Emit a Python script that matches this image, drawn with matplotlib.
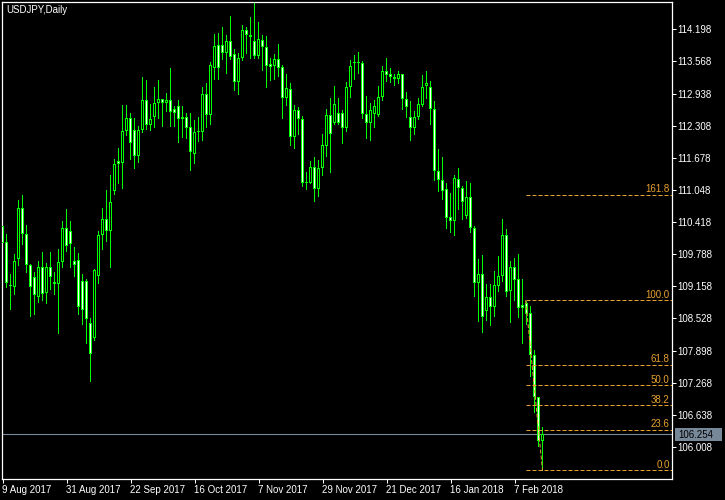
import matplotlib
matplotlib.use("Agg")
import matplotlib.pyplot as plt
from matplotlib.patches import Rectangle
import numpy as np

plt.rcParams['font.family'] = ['Liberation Sans', 'DejaVu Sans']

# USDJPY daily bars, 9 Aug 2017 .. 16 Feb 2018
opens = [110.34, 110.02, 109.18, 109.14, 109.69, 110.69, 110.18, 109.57, 109.34, 108.95,
         109.54, 109.02, 109.54, 109.25, 109.20, 109.63, 110.31, 110.24, 109.66, 109.67,
         109.26, 109.26, 108.43, 108.14, 109.37, 110.16, 110.47, 110.24, 111.03, 111.61,
         111.58, 112.20, 112.46, 112.22, 111.72, 112.22, 112.82, 112.33, 112.48, 112.75,
         112.84, 112.75, 112.81, 112.64, 112.69, 112.48, 112.48, 112.29, 111.75, 112.20,
         112.19, 112.92, 112.52, 113.43, 113.89, 113.89, 113.73, 113.97, 113.71, 113.16,
         113.63, 114.18, 114.08, 113.97, 113.68, 113.99, 113.86, 113.51, 113.47, 113.61,
         113.45, 112.86, 113.03, 112.09, 112.62, 112.44, 111.19, 111.19, 111.50, 111.07,
         111.47, 111.91, 112.52, 112.37, 112.55, 112.55, 112.26, 113.07, 113.53, 113.53,
         113.53, 112.53, 112.37, 112.53, 112.52, 112.88, 113.38, 113.32, 113.26, 113.22,
         113.33, 112.84, 112.48, 112.26, 112.48, 112.71, 113.09, 113.07, 112.63, 111.41,
         111.24, 111.07, 110.51, 110.43, 111.26, 111.08, 110.54, 110.90, 110.30, 109.22,
         109.39, 108.68, 108.94, 108.76, 109.17, 109.37, 110.17, 109.07, 109.54, 109.30,
         108.79, 108.84, 108.63, 107.81, 106.99, 106.13]
highs = [110.36, 110.18, 109.40, 109.79, 110.85, 110.95, 110.36, 109.60, 109.43, 109.65,
         109.83, 109.61, 109.83, 109.43, 109.89, 110.44, 110.67, 110.44, 109.93, 109.82,
         109.39, 109.30, 108.54, 109.49, 110.24, 110.70, 111.05, 111.34, 111.65, 111.88,
         112.71, 112.71, 112.55, 112.46, 112.30, 113.26, 113.20, 112.73, 113.06, 113.20,
         112.84, 112.94, 113.43, 112.69, 112.82, 112.69, 112.55, 112.55, 112.42, 112.48,
         113.06, 113.15, 113.56, 114.10, 114.12, 114.24, 114.09, 114.46, 113.81, 113.73,
         114.28, 114.25, 114.43, 114.72, 114.35, 114.09, 114.07, 113.63, 113.71, 113.91,
         113.50, 113.32, 113.14, 112.71, 112.68, 112.50, 111.39, 111.62, 111.69, 111.63,
         112.14, 112.63, 112.86, 113.09, 112.86, 112.62, 113.16, 113.60, 113.69, 113.76,
         113.58, 112.89, 112.76, 112.82, 113.09, 113.48, 113.63, 113.43, 113.32, 113.38,
         113.33, 112.96, 112.79, 112.60, 112.86, 113.30, 113.38, 113.18, 112.79, 111.86,
         111.70, 111.18, 110.99, 111.34, 111.47, 111.13, 111.22, 111.18, 110.34, 109.69,
         109.77, 109.20, 109.20, 109.45, 109.75, 110.48, 110.28, 109.65, 109.72, 109.79,
         109.30, 108.88, 108.77, 107.90, 106.99, 106.39]
lows = [109.95, 109.14, 108.72, 109.01, 109.58, 109.98, 109.43, 108.58, 108.62, 108.86,
        108.89, 108.84, 109.11, 109.01, 108.25, 109.53, 109.86, 109.54, 109.36, 108.62,
        108.42, 108.04, 107.31, 108.10, 109.23, 109.89, 110.05, 109.54, 110.97, 111.19,
        111.09, 112.12, 111.65, 111.48, 111.60, 112.19, 112.24, 112.22, 112.29, 112.45,
        112.30, 112.60, 112.30, 112.30, 111.98, 112.08, 112.06, 111.44, 111.57, 112.01,
        112.03, 112.29, 112.35, 113.22, 113.22, 113.61, 113.34, 113.62, 113.01, 112.93,
        113.59, 113.73, 113.63, 113.63, 113.63, 113.39, 113.06, 113.20, 113.22, 113.28,
        112.46, 112.71, 111.93, 111.88, 112.14, 111.13, 111.06, 111.18, 110.84, 110.92,
        111.34, 111.72, 111.39, 112.34, 112.35, 111.96, 112.20, 112.88, 113.22, 113.35,
        112.45, 112.06, 112.02, 112.29, 112.50, 112.81, 113.18, 113.17, 113.11, 113.14,
        112.63, 112.47, 112.03, 112.14, 112.44, 112.69, 112.86, 112.34, 111.24, 111.03,
        110.88, 110.31, 110.23, 110.17, 110.67, 110.48, 110.49, 110.23, 108.96, 108.48,
        108.27, 108.50, 108.40, 108.58, 109.07, 109.27, 108.97, 108.45, 108.89, 108.56,
        108.04, 108.42, 107.39, 106.70, 106.03, 105.55]
closes = [110.01, 109.22, 109.16, 109.65, 110.69, 110.18, 109.57, 109.14, 108.98, 109.54,
          109.01, 109.54, 109.34, 109.20, 109.63, 110.31, 109.95, 109.99, 109.58, 108.76,
          108.69, 108.52, 107.83, 109.48, 110.16, 110.47, 110.24, 110.82, 111.56, 111.56,
          112.20, 112.46, 111.96, 111.72, 112.22, 112.82, 112.33, 112.43, 112.75, 112.84,
          112.75, 112.81, 112.58, 112.55, 112.43, 112.43, 112.26, 111.79, 112.19, 112.19,
          112.92, 112.52, 113.50, 113.87, 113.43, 113.73, 113.97, 113.66, 113.16, 113.63,
          114.18, 114.09, 114.05, 113.68, 114.01, 113.86, 113.47, 113.45, 113.61, 113.44,
          112.86, 113.04, 112.08, 112.62, 112.43, 111.19, 111.21, 111.49, 111.07, 111.47,
          111.92, 112.52, 112.14, 112.73, 112.37, 112.27, 113.07, 113.47, 113.55, 113.55,
          112.53, 112.37, 112.62, 112.70, 112.88, 113.38, 113.30, 113.27, 113.22, 113.33,
          112.84, 112.68, 112.26, 112.48, 112.73, 113.06, 113.14, 112.63, 111.41, 111.24,
          111.03, 110.50, 110.43, 111.28, 111.08, 110.82, 110.90, 110.30, 109.22, 109.39,
          108.56, 108.94, 108.76, 109.18, 109.37, 110.17, 109.05, 109.54, 109.28, 108.73,
          108.73, 108.62, 107.81, 106.99, 106.13, 106.26]

date_ticks = [0, 16, 32, 48, 64, 80, 96, 112, 128]
date_labels = ["9 Aug 2017", "31 Aug 2017", "22 Sep 2017", "16 Oct 2017", "7 Nov 2017",
               "29 Nov 2017", "21 Dec 2017", "16 Jan 2018", "7 Feb 2018"]
price_ticks = [114.198, 113.568, 112.938, 112.308, 111.678, 111.048, 110.418,
               109.788, 109.158, 108.528, 107.898, 107.268, 106.638, 106.008]

fib_levels = [0.0, 23.6, 38.2, 50.0, 61.8, 100.0, 161.8]
fib_low = 105.551
fib_high = 108.884
fib_start = 130.8
bid = 106.254

green = '#00FF00'
orange = '#E8A030'
grey = '#778899'

fig = plt.figure(figsize=(7.25, 5), dpi=100, facecolor='black')
ax = fig.add_axes([2 / 725, 21 / 500, 670 / 725, 477 / 500])
ax.set_facecolor('black')
ymin, ymax = 105.380, 114.733
px = (ymax - ymin) / 477  # one pixel in price units

o = np.array(opens)
h = np.array(highs)
l = np.array(lows)
c = np.array(closes)
x = np.arange(len(o))

# wicks (nudged so the 1px line snaps onto the body's middle column),
# then a 3px green body with a 1px white (bear) / black (bull) core
ax.vlines(x - 0.125, l, h, color=green, lw=0.72, zorder=2, antialiased=False)
bottoms = np.minimum(o, c)
heights = np.maximum(np.abs(c - o), px)
ax.bar(x, heights, bottom=bottoms, width=0.75, color=green, linewidth=0,
       zorder=3, antialiased=False)
inner_h = heights - 2 * px
keep = inner_h > 0
fills = np.array(['white' if cc < oo else 'black' for oo, cc in zip(o, c)])
ax.bar(x[keep], inner_h[keep], bottom=bottoms[keep] + px, width=0.25,
       color=fills[keep], linewidth=0, zorder=4, antialiased=False)

# bid line
ax.axhline(bid, color=grey, lw=0.8, zorder=1)

# fibonacci retracement
for lvl in fib_levels:
    p = fib_low + lvl / 100 * (fib_high - fib_low)
    ax.hlines(p, fib_start, 170, colors=orange, linestyles=(0, (4, 2)), lw=0.72, zorder=5)
    ax.annotate(f"{lvl:.1f}", xy=(0.9966, p), xycoords=('axes fraction', 'data'),
                xytext=(0, 2), textcoords='offset points', ha='right', va='baseline',
                color=orange, fontsize=7)
ax.plot([fib_start, len(o) - 1], [fib_high, fib_low], color=orange,
        ls=(0, (4, 2)), lw=0.72, zorder=5)

ax.set_xlim(-0.125, 167.375)
ax.set_ylim(ymin, ymax)

for s in ax.spines.values():
    s.set_color('white')
    s.set_linewidth(0.9)

ax.yaxis.tick_right()
ax.set_yticks(price_ticks)
ax.set_yticklabels([f"{p:.3f}" for p in price_ticks])
ax.tick_params(axis='y', colors='white', length=3, width=0.72, pad=1, labelsize=7)
ax.set_xticks(date_ticks)
ax.set_xticklabels(date_labels)
ax.tick_params(axis='x', colors='white', length=3, width=0.72, pad=1, labelsize=7)
plt.setp(ax.get_xticklabels(), ha='left')

fig.text(6.5 / 725, 1 - 5 / 500, "USDJPY,Daily", ha='left', va='top', color='white', fontsize=7)

# bid price tag on the scale
fig.patches.append(Rectangle((675 / 725, 1 - 441 / 500), 47 / 725, 13 / 500,
                             transform=fig.transFigure, facecolor=grey, edgecolor='none'))
fig.text(678 / 725, 1 - 434.5 / 500, f"{bid:.3f}", ha='left', va='center',
         color='black', fontsize=7)

fig.savefig('out.png', dpi=100, facecolor='black')
